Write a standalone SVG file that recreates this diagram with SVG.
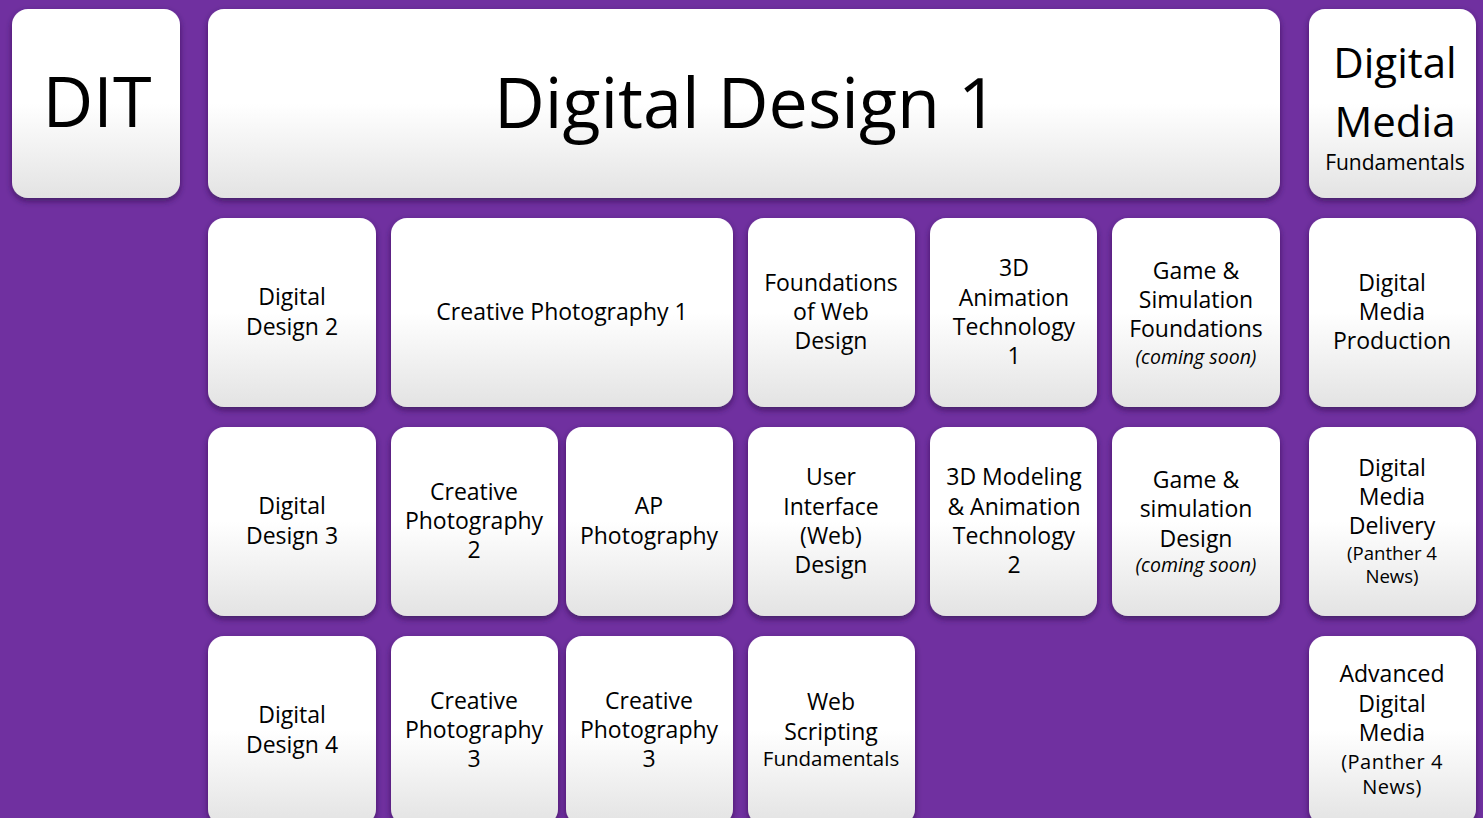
<svg xmlns="http://www.w3.org/2000/svg" width="1483" height="818" viewBox="0 0 1483 818">
<defs>
<linearGradient id="g" x1="0" y1="0" x2="0" y2="1">
<stop offset="0" stop-color="#ffffff"/>
<stop offset="0.5" stop-color="#ffffff"/>
<stop offset="1" stop-color="#e3e3e3"/>
</linearGradient>
<filter id="sh" x="-10%" y="-10%" width="120%" height="125%">
<feDropShadow dx="0" dy="3" stdDeviation="3" flood-color="#2a0846" flood-opacity="0.65"/>
</filter>
</defs>
<style>
rect.b{fill:url(#g);filter:url(#sh)}
text{font-family:"Open Sans","Noto Sans","Liberation Sans",sans-serif;fill:#000;text-anchor:middle;font-size:23px}
.s{font-size:18.6px}
.i{font-size:19.5px;font-style:italic}
.p{font-size:20px;letter-spacing:0.5px}
</style>
<rect width="1483" height="818" fill="#7030a0"/>
<g id="dit"><rect class="b" x="12" y="9" width="168" height="189" rx="16"/><text x="97" y="127" style="font-size:70px">DIT</text></g>
<g id="dd1"><rect class="b" x="208" y="9" width="1072" height="189" rx="16"/><text x="746" y="128" style="font-size:70px">Digital Design 1</text></g>
<g id="dmf"><rect class="b" x="1309" y="9" width="167" height="189" rx="16"/><text x="1395" y="78" style="font-size:42px">Digital</text><text x="1395" y="137" style="font-size:42px">Media</text><text x="1395" y="170" style="font-size:21px">Fundamentals</text></g>

<g id="dd2"><rect class="b" x="208" y="218" width="168" height="189" rx="16"/><text x="292" y="305">Digital</text><text x="292" y="335">Design 2</text></g>
<g id="cp1"><rect class="b" x="391" y="218" width="342" height="189" rx="16"/><text x="562" y="320">Creative Photography 1</text></g>
<g id="fwd"><rect class="b" x="748" y="218" width="167" height="189" rx="16"/><text x="831" y="291">Foundations</text><text x="831" y="320">of Web</text><text x="831" y="349">Design</text></g>
<g id="3d1"><rect class="b" x="930" y="218" width="167" height="189" rx="16"/><text x="1014" y="276">3D</text><text x="1014" y="306">Animation</text><text x="1014" y="335">Technology</text><text x="1014" y="364">1</text></g>
<g id="gsf"><rect class="b" x="1112" y="218" width="168" height="189" rx="16"/><text x="1196" y="279">Game &amp;</text><text x="1196" y="308">Simulation</text><text x="1196" y="337">Foundations</text><text class="i" x="1196" y="364">(coming soon)</text></g>
<g id="dmp"><rect class="b" x="1309" y="218" width="167" height="189" rx="16"/><text x="1392" y="291">Digital</text><text x="1392" y="320">Media</text><text x="1392" y="349">Production</text></g>

<g id="dd3"><rect class="b" x="208" y="427" width="168" height="189" rx="16"/><text x="292" y="514">Digital</text><text x="292" y="544">Design 3</text></g>
<g id="cp2"><rect class="b" x="391" y="427" width="167" height="189" rx="16"/><text x="474" y="500">Creative</text><text x="474" y="529">Photography</text><text x="474" y="558">2</text></g>
<g id="ap"><rect class="b" x="566" y="427" width="167" height="189" rx="16"/><text x="649" y="514">AP</text><text x="649" y="544">Photography</text></g>
<g id="uid"><rect class="b" x="748" y="427" width="167" height="189" rx="16"/><text x="831" y="485">User</text><text x="831" y="515">Interface</text><text x="831" y="544">(Web)</text><text x="831" y="573">Design</text></g>
<g id="3d2"><rect class="b" x="930" y="427" width="167" height="189" rx="16"/><text x="1014" y="485">3D Modeling</text><text x="1014" y="515">&amp; Animation</text><text x="1014" y="544">Technology</text><text x="1014" y="573">2</text></g>
<g id="gsd"><rect class="b" x="1112" y="427" width="168" height="189" rx="16"/><text x="1196" y="488">Game &amp;</text><text x="1196" y="517">simulation</text><text x="1196" y="547">Design</text><text class="i" x="1196" y="572">(coming soon)</text></g>
<g id="dmd"><rect class="b" x="1309" y="427" width="167" height="189" rx="16"/><text x="1392" y="476">Digital</text><text x="1392" y="505">Media</text><text x="1392" y="534">Delivery</text><text class="s" x="1392" y="560">(Panther 4</text><text class="s" x="1392" y="583">News)</text></g>

<g id="dd4"><rect class="b" x="208" y="636" width="168" height="189" rx="16"/><text x="292" y="723">Digital</text><text x="292" y="753">Design 4</text></g>
<g id="cp3a"><rect class="b" x="391" y="636" width="167" height="189" rx="16"/><text x="474" y="709">Creative</text><text x="474" y="738">Photography</text><text x="474" y="767">3</text></g>
<g id="cp3b"><rect class="b" x="566" y="636" width="167" height="189" rx="16"/><text x="649" y="709">Creative</text><text x="649" y="738">Photography</text><text x="649" y="767">3</text></g>
<g id="wsf"><rect class="b" x="748" y="636" width="167" height="189" rx="16"/><text x="831" y="710">Web</text><text x="831" y="740">Scripting</text><text x="831" y="766" style="font-size:20.5px">Fundamentals</text></g>
<g id="adm"><rect class="b" x="1309" y="636" width="167" height="189" rx="16"/><text x="1392" y="682">Advanced</text><text x="1392" y="712">Digital</text><text x="1392" y="741">Media</text><text class="p" x="1392" y="769">(Panther 4</text><text class="p" x="1392" y="794">News)</text></g>
<g id="connectors"/>
</svg>
